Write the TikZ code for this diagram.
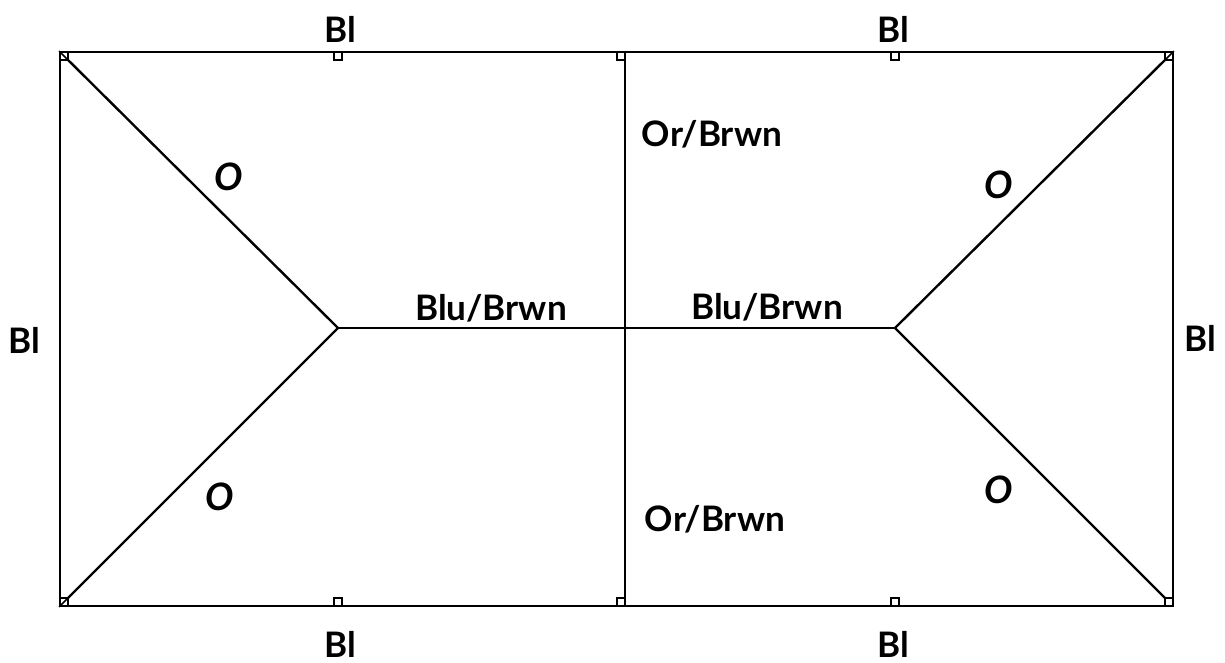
\documentclass[tikz,border=0pt]{standalone}
\usepackage{fontspec}
\setmainfont{Lato}
\begin{document}
\begin{tikzpicture}[x=0.02cm,y=-0.02cm]
\tikzset{
  ridge/.style={line width=1.35pt,black},
  tick/.style={draw=black,line width=1pt,minimum size=0.16cm,inner sep=0pt,fill=white},
  lbl/.style={font=\bfseries\fontsize{20}{24}\selectfont,inner sep=0pt},
  lblo/.style={font=\bfseries\itshape\fontsize{21.5}{26}\selectfont,inner sep=0pt}
}
\useasboundingbox (0,0) rectangle (1225,663);

\coordinate (TL) at (60,52);
\coordinate (TM) at (625,52);
\coordinate (TR) at (1173,52);
\coordinate (BL) at (60,606);
\coordinate (BM) at (625,606);
\coordinate (BR) at (1173,606);
\coordinate (HL) at (338,328);
\coordinate (HR) at (895,328);

\draw [ridge] (TL) -- (TR) -- (BR) -- (BL) -- cycle;
\draw [ridge] (TM) -- (BM);
\draw [ridge] (HL) -- (HR);
\draw [ridge] (TL) -- (HL);
\draw [ridge] (BL) -- (HL);
\draw [ridge] (TR) -- (HR);
\draw [ridge] (BR) -- (HR);

% ticks along the outline
\node [tick] (t1) at (338,56) {};
\node [tick] (t2) at (621,56) {};
\node [tick] (t3) at (895,56) {};
\node [tick] (t4) at (338,602) {};
\node [tick] (t5) at (621,602) {};
\node [tick] (t6) at (895,602) {};
\node [tick] (c1) at (64,56) {};
\node [tick] (c2) at (1169,56) {};
\node [tick] (c3) at (64,602) {};
\node [tick] (c4) at (1169,602) {};
\draw [line width=0.9pt] (c1.north west) -- (c1.south east);
\draw [line width=0.9pt] (c2.north east) -- (c2.south west);
\draw [line width=0.9pt] (c3.south west) -- (c3.north east);

\node [lbl] (l1) at (340,29) {Bl};
\node [lbl] (l2) at (893,29) {Bl};
\node [lbl] (l3) at (24,340) {Bl};
\node [lbl] (l4) at (1200,338) {Bl};
\node [lbl] (l5) at (340,644) {Bl};
\node [lbl] (l6) at (893,644) {Bl};
\node [lbl] (l7) at (712,134) {Or/Brwn};
\node [lbl] (l8) at (715,519) {Or/Brwn};
\node [lbl] (l9) at (491,308) {Blu/Brwn};
\node [lbl] (l10) at (767,307) {Blu/Brwn};
\node [lblo] (o1) at (229,177) {O};
\node [lblo] (o2) at (220,497) {O};
\node [lblo] (o3) at (999,185) {O};
\node [lblo] (o4) at (999,490) {O};
\end{tikzpicture}
\end{document}
